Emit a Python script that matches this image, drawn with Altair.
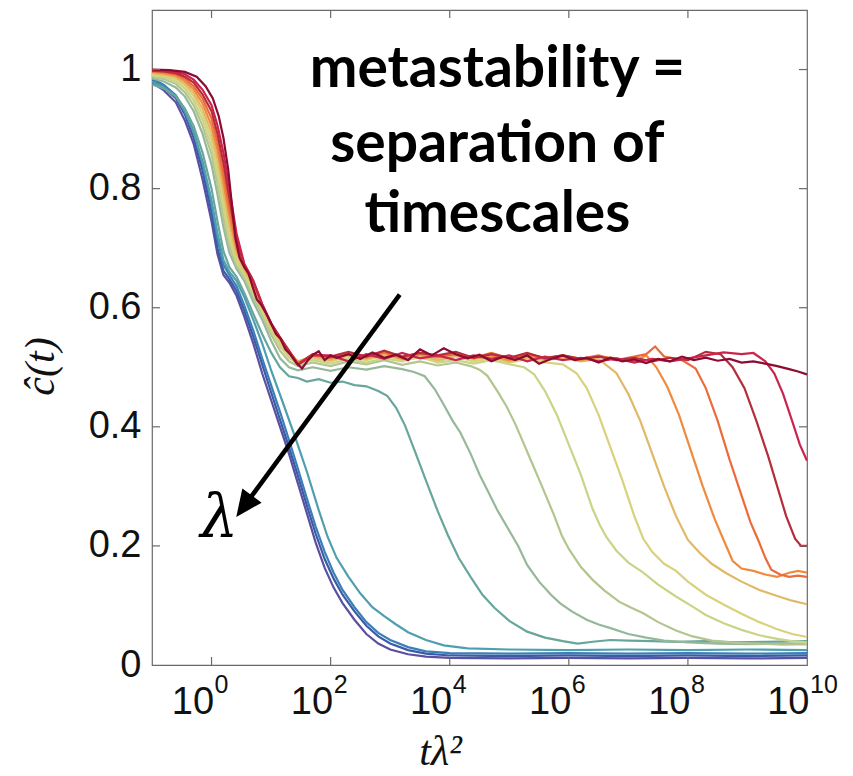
import altair as alt
import pandas as pd

# ---------------- data (log10 of t*lambda^2, c_hat) ----------------
series_names = ["s01", "s02", "s03", "s04", "s05", "s06", "s07", "s08",
                "s09", "s10", "s11", "s12", "s13", "s14", "s15"]
series_colors = ["#5a4fa0", "#3b5ba5", "#3a7fb8", "#4f9fb0", "#68a69b",
                 "#95b89a", "#b3c58f", "#c9d487", "#d8d27c", "#e0b868",
                 "#f08a3e", "#ec6b3b", "#b52d3a", "#c9254c", "#8c0b30"]

curve_s01 = [(-1.0,0.978),(-0.8,0.965),(-0.6,0.945),(-0.45,0.915),(-0.3,0.875),(-0.15,0.815),(0.0,0.745),(0.1,0.69),(0.2,0.655),(0.3,0.642),(0.42,0.62),(0.55,0.585),(0.7,0.54),(0.85,0.49),(1.0,0.445),(1.15,0.40),(1.3,0.355),(1.45,0.305),(1.6,0.255),(1.75,0.205),(1.9,0.163),(2.05,0.13),(2.2,0.104),(2.4,0.076),(2.6,0.052),(2.8,0.036),(3.0,0.026),(3.3,0.018),(3.6,0.014),(4.0,0.012),(5.0,0.011),(6.0,0.012),(7.0,0.011),(8.0,0.012),(9.0,0.011),(10.0,0.012)]
curve_s02 = [(-1.0,0.982),(-0.8,0.97),(-0.6,0.952),(-0.45,0.925),(-0.3,0.885),(-0.15,0.83),(0.0,0.76),(0.1,0.70),(0.2,0.662),(0.3,0.648),(0.42,0.628),(0.55,0.595),(0.7,0.552),(0.85,0.505),(1.0,0.458),(1.15,0.412),(1.3,0.366),(1.45,0.318),(1.6,0.268),(1.75,0.22),(1.9,0.178),(2.05,0.145),(2.2,0.118),(2.4,0.09),(2.6,0.066),(2.8,0.048),(3.0,0.036),(3.3,0.025),(3.6,0.019),(4.0,0.016),(5.0,0.015),(6.0,0.016),(7.0,0.015),(8.0,0.016),(9.0,0.015),(10.0,0.016)]
curve_s03 = [(-1.0,0.985),(-0.8,0.974),(-0.6,0.957),(-0.45,0.932),(-0.3,0.895),(-0.15,0.842),(0.0,0.775),(0.1,0.715),(0.2,0.672),(0.3,0.655),(0.42,0.636),(0.55,0.604),(0.7,0.562),(0.85,0.515),(1.0,0.47),(1.15,0.425),(1.3,0.378),(1.45,0.33),(1.6,0.28),(1.75,0.232),(1.9,0.19),(2.05,0.155),(2.2,0.126),(2.4,0.097),(2.6,0.072),(2.8,0.054),(3.0,0.042),(3.3,0.03),(3.6,0.023),(4.0,0.02),(5.0,0.019),(6.0,0.02),(7.0,0.019),(8.0,0.02),(9.0,0.019),(10.0,0.02)]
curve_s04 = [(-1.0,0.98),(-0.8,0.97),(-0.6,0.955),(-0.45,0.93),(-0.3,0.895),(-0.15,0.845),(0.0,0.78),(0.1,0.725),(0.2,0.68),(0.3,0.66),(0.42,0.645),(0.55,0.618),(0.7,0.58),(0.85,0.54),(1.0,0.495),(1.2,0.44),(1.42,0.378),(1.6,0.325),(1.8,0.26),(1.95,0.215),(2.1,0.18),(2.3,0.148),(2.5,0.12),(2.7,0.097),(2.9,0.082),(3.1,0.068),(3.3,0.055),(3.6,0.042),(3.9,0.033),(4.3,0.028),(5.0,0.026),(6.0,0.025),(7.0,0.026),(8.0,0.025),(9.0,0.026),(10.0,0.025)]
curve_s05 = [(-1.0,0.975),(-0.8,0.968),(-0.6,0.955),(-0.45,0.935),(-0.3,0.905),(-0.15,0.86),(0.0,0.8),(0.1,0.745),(0.2,0.695),(0.3,0.668),(0.42,0.652),(0.55,0.625),(0.7,0.59),(0.85,0.556),(1.0,0.525),(1.15,0.5),(1.3,0.485),(1.45,0.482),(1.6,0.476),(1.8,0.48),(2.0,0.474),(2.2,0.476),(2.4,0.47),(2.6,0.468),(2.8,0.46),(2.95,0.452),(3.1,0.432),(3.25,0.402),(3.43,0.355),(3.6,0.31),(3.8,0.258),(3.97,0.218),(4.15,0.18),(4.35,0.148),(4.55,0.118),(4.75,0.096),(5.0,0.074),(5.3,0.056),(5.6,0.046),(5.9,0.04),(6.15,0.036),(6.4,0.039),(6.7,0.042),(7.0,0.041),(7.4,0.04),(7.8,0.039),(8.3,0.04),(8.8,0.038),(9.3,0.039),(10.0,0.04)]
curve_s06 = [(-1.0,0.985),(-0.8,0.98),(-0.6,0.97),(-0.45,0.955),(-0.3,0.93),(-0.15,0.892),(0.0,0.84),(0.1,0.79),(0.2,0.735),(0.3,0.692),(0.42,0.665),(0.55,0.645),(0.7,0.61),(0.85,0.58),(1.0,0.545),(1.15,0.515),(1.3,0.5),(1.45,0.495),(1.7,0.5),(2.0,0.494),(2.3,0.5),(2.6,0.496),(2.9,0.502),(3.2,0.497),(3.4,0.492),(3.58,0.485),(3.75,0.463),(3.9,0.437),(4.05,0.41),(4.18,0.39),(4.35,0.355),(4.5,0.32),(4.65,0.29),(4.8,0.26),(5.02,0.222),(5.15,0.2),(5.3,0.168),(5.5,0.14),(5.7,0.118),(5.85,0.104),(6.05,0.09),(6.3,0.076),(6.5,0.068),(6.7,0.062),(7.0,0.052),(7.3,0.046),(7.6,0.041),(8.0,0.038),(8.5,0.036),(9.0,0.035),(9.5,0.036),(10.0,0.035)]
curve_s07 = [(-1.0,0.988),(-0.8,0.984),(-0.6,0.976),(-0.45,0.962),(-0.3,0.94),(-0.15,0.905),(0.0,0.857),(0.1,0.808),(0.2,0.752),(0.3,0.703),(0.42,0.67),(0.55,0.652),(0.7,0.618),(0.85,0.588),(1.0,0.555),(1.15,0.528),(1.3,0.51),(1.45,0.502),(1.7,0.508),(2.0,0.502),(2.3,0.51),(2.6,0.505),(2.9,0.512),(3.2,0.504),(3.5,0.51),(3.8,0.503),(4.1,0.508),(4.35,0.502),(4.5,0.496),(4.63,0.486),(4.8,0.46),(4.95,0.435),(5.1,0.405),(5.25,0.37),(5.4,0.335),(5.55,0.3),(5.75,0.252),(5.88,0.218),(6.0,0.195),(6.2,0.165),(6.4,0.143),(6.6,0.125),(6.85,0.106),(7.05,0.096),(7.25,0.087),(7.5,0.072),(7.8,0.058),(8.08,0.048),(8.4,0.041),(8.8,0.037),(9.2,0.036),(9.6,0.034),(10.0,0.035)]
curve_s08 = [(-1.0,0.99),(-0.8,0.987),(-0.6,0.98),(-0.45,0.968),(-0.3,0.948),(-0.15,0.915),(0.0,0.87),(0.1,0.822),(0.2,0.767),(0.3,0.714),(0.42,0.676),(0.55,0.656),(0.7,0.624),(0.85,0.594),(1.0,0.562),(1.15,0.535),(1.3,0.516),(1.45,0.506),(1.7,0.512),(2.0,0.506),(2.3,0.514),(2.6,0.508),(2.9,0.515),(3.2,0.51),(3.5,0.518),(3.8,0.508),(4.1,0.512),(4.4,0.506),(4.7,0.512),(5.0,0.505),(5.25,0.5),(5.42,0.488),(5.6,0.46),(5.8,0.42),(6.0,0.37),(6.2,0.32),(6.4,0.262),(6.52,0.235),(6.63,0.215),(6.8,0.192),(7.0,0.172),(7.25,0.155),(7.5,0.135),(7.8,0.115),(8.08,0.098),(8.3,0.084),(8.6,0.07),(8.9,0.059),(9.2,0.05),(9.5,0.044),(9.75,0.04),(10.0,0.038)]
curve_s09 = [(-1.0,0.992),(-0.8,0.99),(-0.6,0.984),(-0.45,0.973),(-0.3,0.955),(-0.15,0.925),(0.0,0.882),(0.1,0.836),(0.2,0.782),(0.3,0.726),(0.42,0.682),(0.55,0.66),(0.7,0.63),(0.85,0.598),(1.0,0.566),(1.15,0.54),(1.3,0.52),(1.45,0.508),(1.7,0.515),(2.0,0.51),(2.3,0.518),(2.6,0.512),(2.9,0.52),(3.2,0.512),(3.5,0.516),(3.8,0.51),(4.1,0.518),(4.4,0.51),(4.7,0.515),(5.0,0.508),(5.3,0.514),(5.6,0.508),(5.9,0.505),(6.13,0.49),(6.3,0.465),(6.5,0.42),(6.7,0.365),(6.9,0.31),(7.1,0.25),(7.25,0.212),(7.4,0.19),(7.6,0.17),(7.8,0.158),(8.0,0.14),(8.3,0.118),(8.63,0.1),(8.9,0.086),(9.2,0.072),(9.5,0.06),(9.75,0.052),(10.0,0.047)]
curve_s10 = [(-1.0,0.994),(-0.8,0.992),(-0.6,0.987),(-0.45,0.977),(-0.3,0.961),(-0.15,0.934),(0.0,0.894),(0.1,0.85),(0.2,0.797),(0.3,0.74),(0.42,0.69),(0.55,0.664),(0.7,0.636),(0.85,0.602),(1.0,0.57),(1.15,0.545),(1.3,0.524),(1.45,0.51),(1.7,0.518),(2.0,0.512),(2.3,0.52),(2.6,0.514),(2.9,0.522),(3.2,0.515),(3.5,0.52),(3.8,0.512),(4.1,0.52),(4.4,0.514),(4.7,0.518),(5.0,0.51),(5.3,0.516),(5.6,0.512),(5.9,0.516),(6.2,0.51),(6.5,0.514),(6.8,0.49),(7.0,0.455),(7.2,0.41),(7.4,0.355),(7.6,0.3),(7.8,0.25),(8.0,0.21),(8.2,0.188),(8.4,0.17),(8.63,0.155),(8.9,0.14),(9.2,0.126),(9.5,0.116),(9.75,0.108),(10.0,0.102)]
curve_s11 = [(-1.0,0.996),(-0.8,0.994),(-0.6,0.99),(-0.45,0.981),(-0.3,0.967),(-0.15,0.943),(0.0,0.906),(0.1,0.865),(0.2,0.812),(0.3,0.755),(0.42,0.698),(0.55,0.668),(0.7,0.64),(0.85,0.604),(1.0,0.572),(1.15,0.548),(1.3,0.527),(1.45,0.508),(1.7,0.52),(2.0,0.515),(2.3,0.522),(2.6,0.516),(2.9,0.524),(3.2,0.514),(3.5,0.522),(3.8,0.516),(4.1,0.524),(4.4,0.515),(4.7,0.52),(5.0,0.512),(5.3,0.52),(5.6,0.514),(5.9,0.52),(6.2,0.512),(6.5,0.518),(6.8,0.515),(7.1,0.51),(7.3,0.52),(7.47,0.5),(7.65,0.468),(7.85,0.42),(8.05,0.36),(8.25,0.3),(8.45,0.245),(8.6,0.21),(8.75,0.175),(8.9,0.162),(9.1,0.158),(9.3,0.152),(9.5,0.148),(9.7,0.155),(9.85,0.158),(10.0,0.155)]
curve_s12 = [(-1.0,0.997),(-0.8,0.996),(-0.6,0.992),(-0.45,0.985),(-0.3,0.972),(-0.15,0.951),(0.0,0.918),(0.1,0.878),(0.2,0.826),(0.3,0.768),(0.42,0.706),(0.55,0.67),(0.7,0.642),(0.85,0.605),(1.0,0.573),(1.15,0.55),(1.3,0.528),(1.45,0.506),(1.7,0.522),(2.0,0.516),(2.3,0.524),(2.6,0.518),(2.9,0.526),(3.2,0.516),(3.5,0.524),(3.8,0.518),(4.1,0.522),(4.4,0.516),(4.7,0.524),(5.0,0.515),(5.3,0.522),(5.6,0.516),(5.9,0.52),(6.2,0.514),(6.5,0.52),(6.8,0.512),(7.1,0.518),(7.3,0.522),(7.45,0.535),(7.6,0.518),(7.9,0.512),(8.13,0.498),(8.3,0.465),(8.5,0.41),(8.7,0.345),(8.9,0.285),(9.05,0.24),(9.18,0.21),(9.3,0.18),(9.4,0.16),(9.55,0.152),(9.7,0.148),(9.85,0.15),(10.0,0.148)]
curve_s13 = [(-1.0,0.998),(-0.8,0.997),(-0.6,0.994),(-0.45,0.988),(-0.3,0.978),(-0.15,0.958),(0.0,0.93),(0.1,0.892),(0.2,0.843),(0.3,0.784),(0.42,0.714),(0.55,0.672),(0.7,0.645),(0.85,0.606),(1.0,0.574),(1.15,0.55),(1.3,0.528),(1.45,0.505),(1.7,0.522),(2.0,0.518),(2.3,0.526),(2.6,0.518),(2.9,0.528),(3.2,0.518),(3.5,0.524),(3.8,0.52),(4.1,0.526),(4.4,0.516),(4.7,0.522),(5.0,0.516),(5.3,0.524),(5.6,0.515),(5.9,0.52),(6.2,0.514),(6.5,0.518),(6.8,0.512),(7.1,0.516),(7.4,0.51),(7.7,0.516),(8.0,0.512),(8.3,0.526),(8.55,0.522),(8.75,0.5),(8.95,0.465),(9.15,0.41),(9.35,0.35),(9.5,0.3),(9.65,0.25),(9.8,0.212),(9.9,0.2),(10.0,0.2)]
curve_s14 = [(-1.0,0.999),(-0.8,0.998),(-0.6,0.996),(-0.45,0.992),(-0.3,0.983),(-0.15,0.966),(0.0,0.94),(0.1,0.906),(0.2,0.86),(0.3,0.8),(0.42,0.724),(0.55,0.674),(0.7,0.646),(0.85,0.606),(1.0,0.574),(1.15,0.55),(1.3,0.526),(1.45,0.504),(1.7,0.52),(2.0,0.52),(2.3,0.51),(2.6,0.522),(2.9,0.514),(3.2,0.524),(3.5,0.515),(3.8,0.52),(4.1,0.512),(4.4,0.52),(4.7,0.514),(5.0,0.52),(5.3,0.51),(5.6,0.518),(5.9,0.512),(6.2,0.516),(6.5,0.51),(6.8,0.515),(7.1,0.508),(7.4,0.514),(7.7,0.51),(8.0,0.515),(8.3,0.52),(8.6,0.525),(8.9,0.522),(9.1,0.524),(9.3,0.51),(9.45,0.49),(9.6,0.455),(9.75,0.41),(9.88,0.37),(10.0,0.343)]
curve_s15 = [(-1.0,1.0),(-0.7,0.999),(-0.45,0.996),(-0.25,0.988),(-0.1,0.972),(0.02,0.952),(0.12,0.922),(0.2,0.885),(0.28,0.832),(0.34,0.775),(0.4,0.718),(0.47,0.684),(0.55,0.668),(0.62,0.658),(0.7,0.632),(0.76,0.614),(0.84,0.604),(0.92,0.59),(1.0,0.574),(1.08,0.556),(1.16,0.548),(1.24,0.53),(1.32,0.522),(1.42,0.508),(1.52,0.498),(1.62,0.512),(1.72,0.522),(1.8,0.527),(1.9,0.512),(2.0,0.52),(2.1,0.516),(2.3,0.522),(2.5,0.514),(2.7,0.525),(2.9,0.516),(3.1,0.521),(3.3,0.512),(3.5,0.53),(3.7,0.52),(3.9,0.532),(4.1,0.522),(4.3,0.515),(4.5,0.521),(4.7,0.51),(4.9,0.518),(5.1,0.512),(5.3,0.52),(5.5,0.506),(5.7,0.514),(5.9,0.52),(6.1,0.512),(6.3,0.516),(6.5,0.508),(6.7,0.516),(6.9,0.51),(7.1,0.513),(7.3,0.507),(7.5,0.514),(7.7,0.51),(7.9,0.518),(8.1,0.512),(8.3,0.516),(8.5,0.511),(8.7,0.514),(8.9,0.508),(9.1,0.51),(9.3,0.506),(9.5,0.502),(9.7,0.497),(9.85,0.493),(10.0,0.488)]

x_tick_values = [1, 100, 10000, 1000000, 100000000, 10000000000]
x_tick_exponents = ["0", "2", "4", "6", "8", "10"]
x_inner_ticks = [1, 100, 10000, 1000000, 100000000]
y_tick_values = [0, 0.2, 0.4, 0.6, 0.8, 1.0]
y_inner_ticks = [0.2, 0.4, 0.6, 0.8, 1.0]

annotation_lines = ["metastability =", "separation of", "timescales"]
annotation_logt = [4.8, 4.8, 4.8]
annotation_c = [0.971, 0.845, 0.728]
arrow_logt = [3.16, 0.58]
arrow_c = [0.622, 0.271]
lambda_label = ["λ"]
lambda_logt = [0.13]
lambda_c = [0.215]

# ---------------- build tables ----------------
all_curves = [curve_s01, curve_s02, curve_s03, curve_s04, curve_s05, curve_s06,
              curve_s07, curve_s08, curve_s09, curve_s10, curve_s11, curve_s12,
              curve_s13, curve_s14, curve_s15]
rows = []
for name, pts in zip(series_names, all_curves):
    for lg, c in pts:
        rows.append({"series": name, "t": 10 ** lg, "c": c})
lines_df = pd.DataFrame(rows)

W, H = 655, 655
FRAME = "#6a6a6a"
TICK = 8
LABEL_FONT = "Liberation Sans Narrow, Liberation Sans, Arial, sans-serif"

xscale = alt.Scale(type="log", domain=[0.1, 1e10], nice=False)
yscale = alt.Scale(domain=[0, 1.1], nice=False, zero=False)

x_axis = alt.Axis(
    values=x_tick_values, labelExpr="'10'", labelAlign="right", labelOffset=2,
    domain=False, ticks=False, tickSize=0, grid=False, labelFont=LABEL_FONT,
    labelFontSize=38, labelColor="#111111", labelPadding=18, labelFlush=False,
    labelOverlap=False, title="tλ²", titleFont="Liberation Serif",
    titleFontStyle="italic", titleFontWeight="normal", titleFontSize=42,
    titleColor="#111111", titleX=288, titleY=86, titleAlign="center",
    titleBaseline="middle")
y_axis = alt.Axis(
    values=y_tick_values, format="~g", domain=False, ticks=False, tickSize=0,
    grid=False, labelFont=LABEL_FONT, labelFontSize=38,
    labelColor="#111111", labelPadding=11, labelFlush=False, labelOverlap=False,
    title="ĉ(t)", titleFont="Liberation Serif", titleFontStyle="italic",
    titleFontWeight="normal", titleFontSize=42, titleColor="#111111",
    titleAngle=270, titleX=-112, titleY=356, titleAlign="center",
    titleBaseline="middle")


def X(field="t"):
    return alt.X(field + ":Q", scale=xscale, axis=x_axis)


def Y(field="c"):
    return alt.Y(field + ":Q", scale=yscale, axis=y_axis)


lines = alt.Chart(lines_df).mark_line(strokeWidth=2.2, clip=True).encode(
    x=X(), y=Y(),
    color=alt.Color("series:N", scale=alt.Scale(domain=series_names, range=series_colors),
                    legend=None),
    detail="series:N",
)

xt_df = pd.DataFrame({"t": x_inner_ticks})
yt_df = pd.DataFrame({"c": y_inner_ticks})

tick_b = alt.Chart(xt_df).mark_rule(color=FRAME, strokeWidth=1.2).encode(
    x=X(), y=alt.value(H), y2=alt.value(H - TICK))
tick_t = alt.Chart(xt_df).mark_rule(color=FRAME, strokeWidth=1.2).encode(
    x=X(), y=alt.value(0), y2=alt.value(TICK))
tick_l = alt.Chart(yt_df).mark_rule(color=FRAME, strokeWidth=1.2).encode(
    y=Y(), x=alt.value(0), x2=alt.value(TICK))
tick_r = alt.Chart(yt_df).mark_rule(color=FRAME, strokeWidth=1.2).encode(
    y=Y(), x=alt.value(W), x2=alt.value(W - TICK))

exp_df = pd.DataFrame({"t": x_tick_values, "text": x_tick_exponents})
exponents = alt.Chart(exp_df).mark_text(
    font=LABEL_FONT, fontSize=25, align="left", baseline="alphabetic", dx=3,
    color="#111111").encode(x=X(), y=alt.value(H + 28), text="text:N")

ann_df = pd.DataFrame({"t": [10 ** v for v in annotation_logt], "c": annotation_c,
                       "text": annotation_lines})
ann = alt.Chart(ann_df).mark_text(font="Lato", fontWeight="bold", fontSize=57,
                                  align="center", baseline="alphabetic",
                                  color="#000000").encode(
    x=X(), y=Y(), text="text:N")

arrow_df = pd.DataFrame({"t": [10 ** v for v in arrow_logt], "c": arrow_c})
arrow_line = alt.Chart(arrow_df).mark_line(color="#000000", strokeWidth=4.5).encode(
    x=X(), y=Y())
head_df = pd.DataFrame({"t": [10 ** arrow_logt[1]], "c": [arrow_c[1]]})
arrow_head = alt.Chart(head_df).mark_point(
    shape="M0,-1L0.72,0.6L-0.72,0.6Z", filled=True, size=1100, angle=216.4,
    color="#000000", opacity=1, strokeWidth=0).encode(x=X(), y=Y())

lam_df = pd.DataFrame({"t": [10 ** v for v in lambda_logt], "c": lambda_c,
                       "text": lambda_label})
lam = alt.Chart(lam_df).mark_text(font="DejaVu Serif", fontStyle="italic",
                                  fontSize=60, align="center", baseline="alphabetic",
                                  color="#000000").encode(
    x=X(), y=Y(), text="text:N")

chart = alt.layer(lines, tick_b, tick_t, tick_l, tick_r, exponents, arrow_line,
                  arrow_head, lam, ann).properties(
    width=W, height=H,
    padding={"left": 152, "top": 10, "right": 46, "bottom": 111},
    autosize=alt.AutoSizeParams(type="none"),
    background="white",
).configure_view(stroke=FRAME, strokeWidth=1.2)

chart.save("out.html", embed_options={"renderer": "svg", "actions": False})
